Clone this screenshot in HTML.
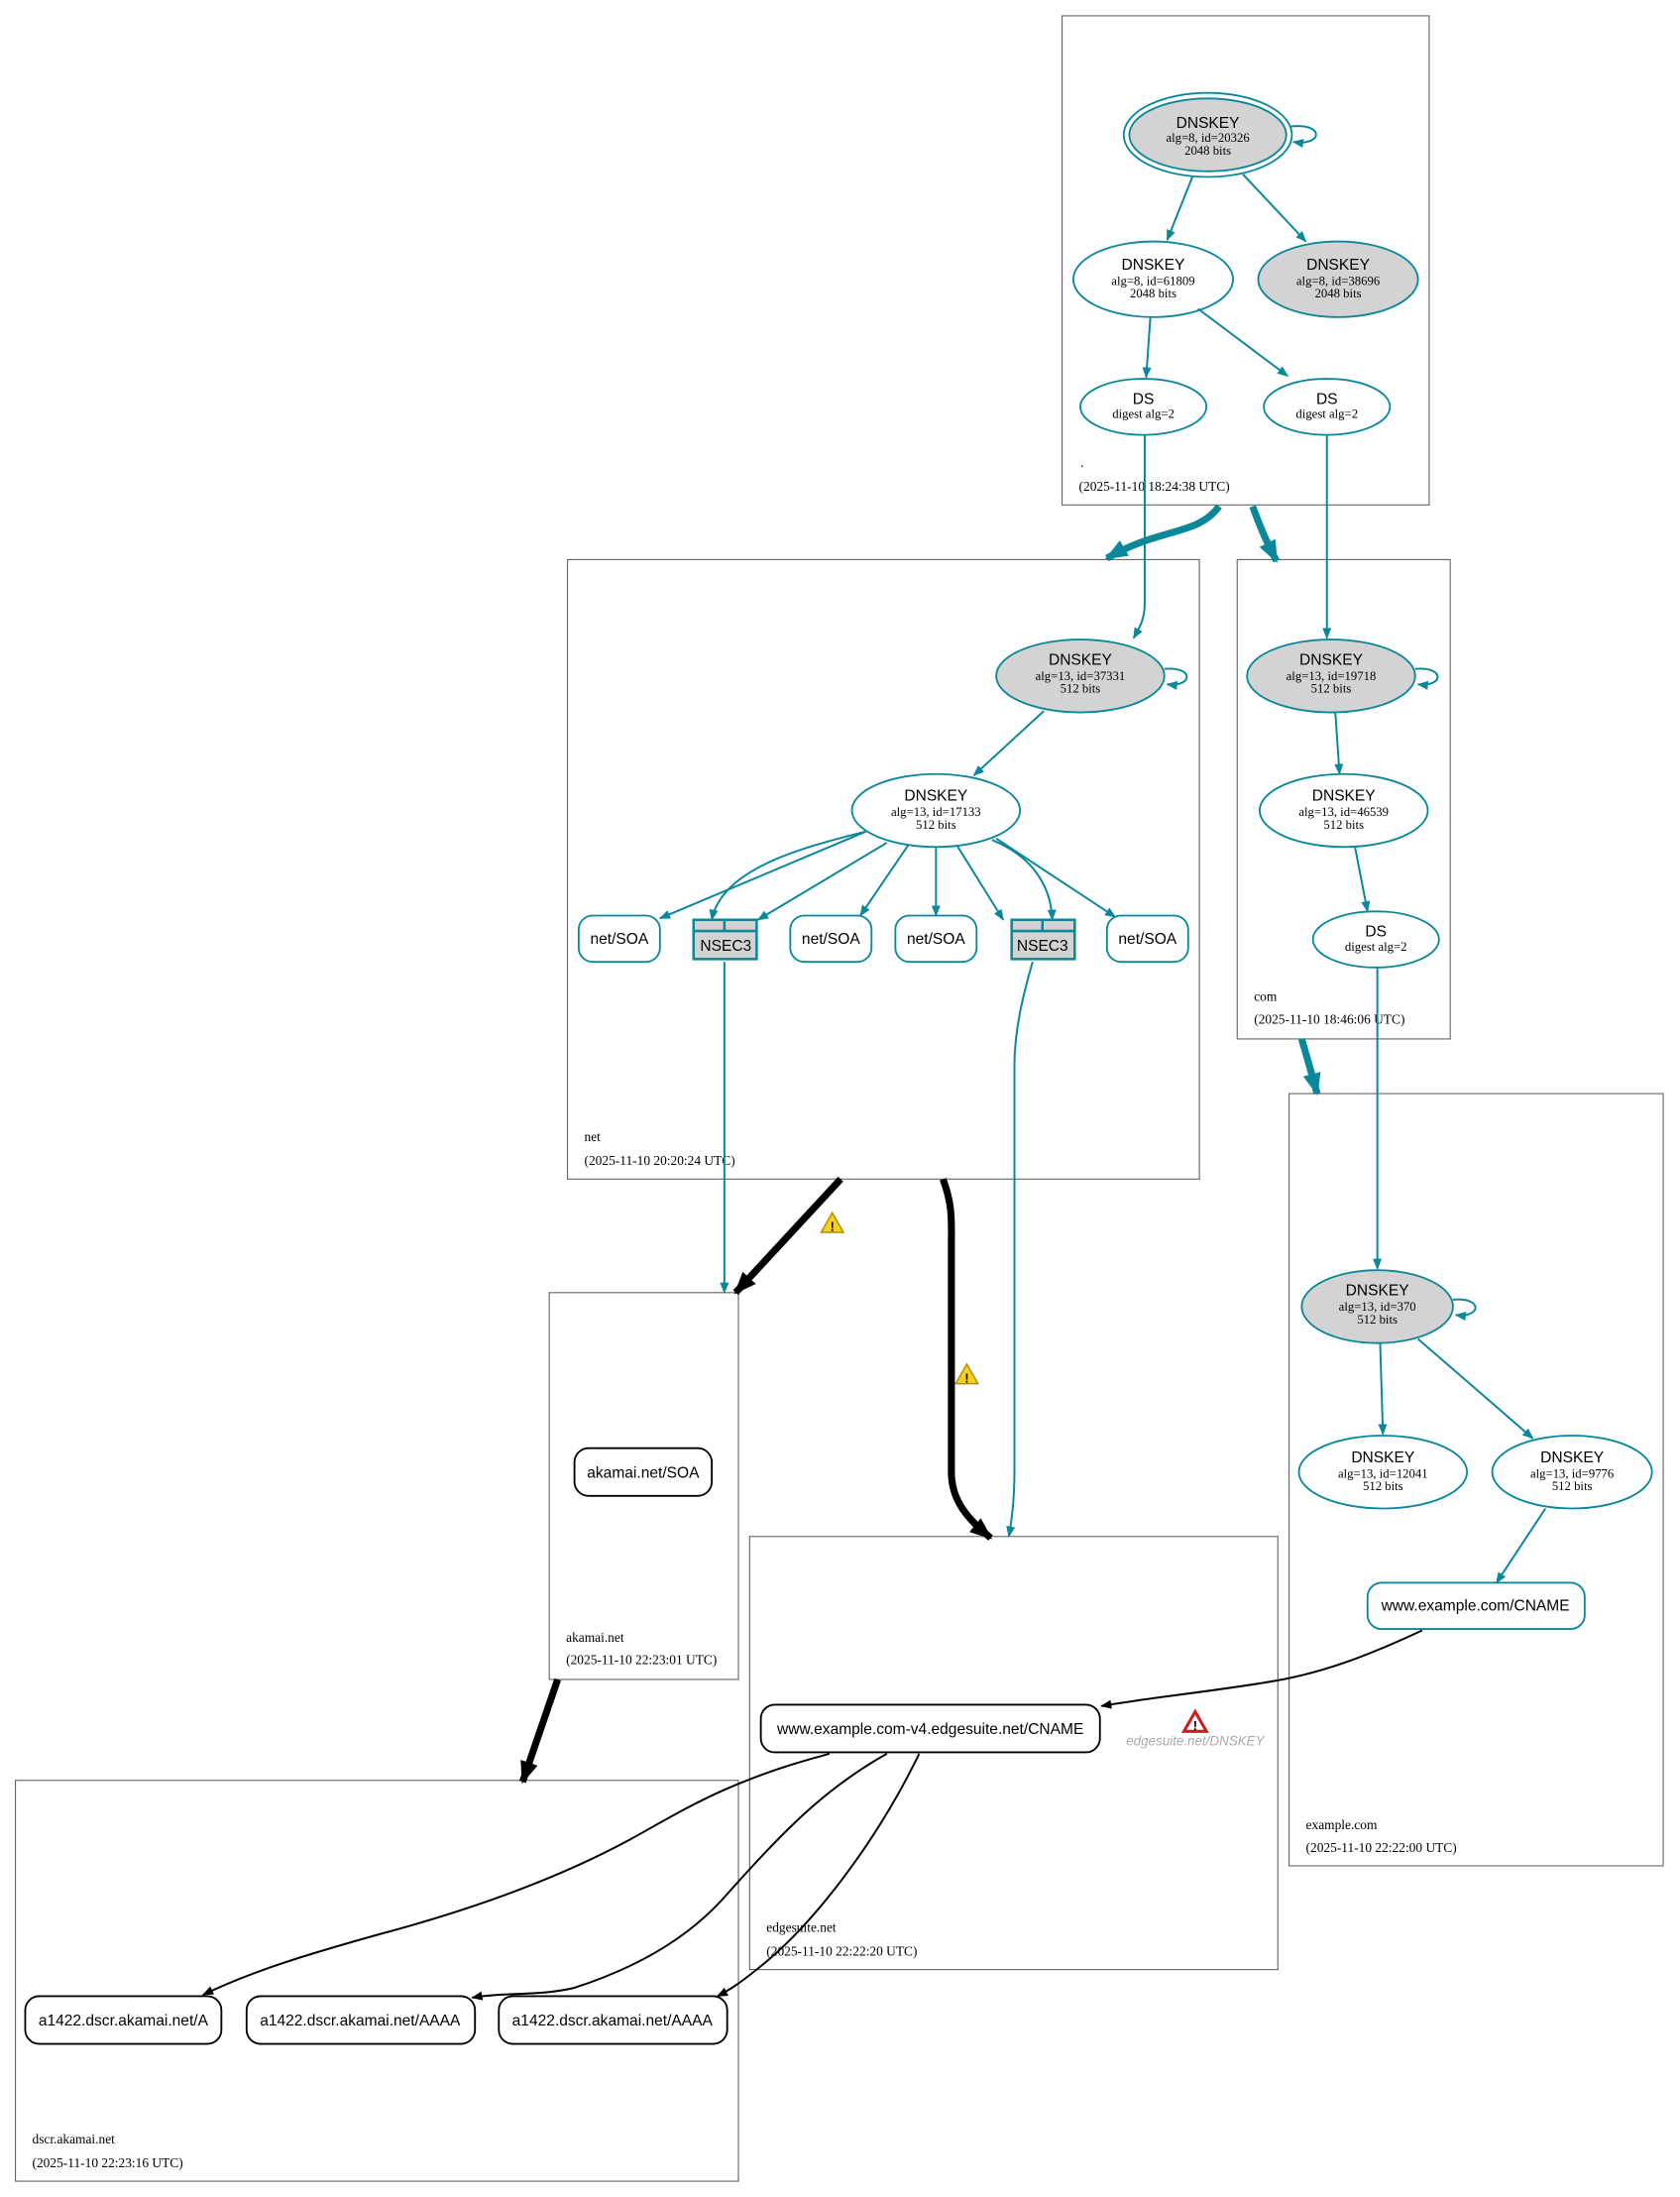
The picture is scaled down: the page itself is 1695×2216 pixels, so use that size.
<!DOCTYPE html>
<html><head><meta charset="utf-8"><style>
html,body{margin:0;padding:0;background:#fff;}
svg{display:block;}
.s{font-family:"Liberation Sans",sans-serif;font-size:11px;fill:#000;text-anchor:middle;}
.r{font-family:"Liberation Serif",serif;font-size:9px;fill:#000;text-anchor:middle;}
.l{font-family:"Liberation Serif",serif;font-size:9.5px;fill:#000;}
.cl{fill:none;stroke:#666;stroke-width:0.8;}
.t{stroke:#0a8799;stroke-width:1.4;fill:none;}
.k{stroke:#000;stroke-width:1.4;fill:none;}
</style></head><body>
<svg width="1695" height="2216" viewBox="0 0 1199 1567" xmlns="http://www.w3.org/2000/svg">
<defs>
<marker id="at" viewBox="0 0 10 10" refX="9" refY="5" markerWidth="8" markerHeight="8" orient="auto" markerUnits="userSpaceOnUse"><path d="M0,1 L10,5 L0,9z" fill="#0a8799"/></marker>
<marker id="ak" viewBox="0 0 10 10" refX="9" refY="5" markerWidth="8" markerHeight="8" orient="auto" markerUnits="userSpaceOnUse"><path d="M0,1 L10,5 L0,9z" fill="#000"/></marker>
<marker id="atb" viewBox="0 0 10 10" refX="9" refY="5" markerWidth="16" markerHeight="16" orient="auto" markerUnits="userSpaceOnUse"><path d="M0,1 L10,5 L0,9z" fill="#0a8799"/></marker>
<marker id="akb" viewBox="0 0 10 10" refX="9" refY="5" markerWidth="16" markerHeight="16" orient="auto" markerUnits="userSpaceOnUse"><path d="M0,1 L10,5 L0,9z" fill="#000"/></marker>
</defs>

<rect class="cl" x="758" y="11" width="262" height="349"/>
<text class="l" x="771" y="333">.</text>
<text class="l" x="770" y="350">(2025-11-10 18:24:38 UTC)</text>

<rect class="cl" x="405" y="399" width="451" height="442"/>
<text class="l" x="417" y="814">net</text>
<text class="l" x="417" y="831">(2025-11-10 20:20:24 UTC)</text>

<rect class="cl" x="883" y="399" width="152" height="342"/>
<text class="l" x="895" y="714">com</text>
<text class="l" x="895" y="730">(2025-11-10 18:46:06 UTC)</text>

<rect class="cl" x="920" y="780" width="267" height="551"/>
<text class="l" x="932" y="1305">example.com</text>
<text class="l" x="932" y="1321">(2025-11-10 22:22:00 UTC)</text>

<rect class="cl" x="392" y="922" width="135" height="276"/>
<text class="l" x="404" y="1171">akamai.net</text>
<text class="l" x="404" y="1187">(2025-11-10 22:23:01 UTC)</text>

<rect class="cl" x="535" y="1096" width="377" height="309"/>
<text class="l" x="547" y="1378">edgesuite.net</text>
<text class="l" x="547" y="1395">(2025-11-10 22:22:20 UTC)</text>

<rect class="cl" x="11" y="1270" width="516" height="286"/>
<text class="l" x="23" y="1529">dscr.akamai.net</text>
<text class="l" x="23" y="1546">(2025-11-10 22:23:16 UTC)</text>

<ellipse cx="862" cy="96" rx="60" ry="30" fill="none" stroke="#0a8799" stroke-width="1.3"/>
<ellipse cx="862" cy="96" rx="56" ry="26" fill="#d3d3d3" stroke="#0a8799" stroke-width="1.3"/>
<text class="s" x="862" y="91">DNSKEY</text><text class="r" x="862" y="101">alg=8, id=20326</text><text class="r" x="862" y="110">2048 bits</text>
<path class="t" d="M921,90 C945,87 945,104 923,101" marker-end="url(#at)"/>

<ellipse cx="823" cy="199" rx="57" ry="27" fill="#fff" stroke="#0a8799" stroke-width="1.3"/>
<text class="s" x="823" y="192">DNSKEY</text><text class="r" x="823" y="203">alg=8, id=61809</text><text class="r" x="823" y="212">2048 bits</text>
<ellipse cx="955" cy="199" rx="57" ry="27" fill="#d3d3d3" stroke="#0a8799" stroke-width="1.3"/>
<text class="s" x="955" y="192">DNSKEY</text><text class="r" x="955" y="203">alg=8, id=38696</text><text class="r" x="955" y="212">2048 bits</text>

<ellipse cx="816" cy="290" rx="45" ry="20" fill="#fff" stroke="#0a8799" stroke-width="1.3"/>
<text class="s" x="816" y="288">DS</text><text class="r" x="816" y="298">digest alg=2</text>
<ellipse cx="947" cy="290" rx="45" ry="20" fill="#fff" stroke="#0a8799" stroke-width="1.3"/>
<text class="s" x="947" y="288">DS</text><text class="r" x="947" y="298">digest alg=2</text>

<line class="t" x1="851" y1="126" x2="833" y2="171" marker-end="url(#at)"/>
<line class="t" x1="887" y1="124" x2="932" y2="172" marker-end="url(#at)"/>
<line class="t" x1="821" y1="226" x2="818" y2="269" marker-end="url(#at)"/>
<line class="t" x1="855" y1="220" x2="919" y2="268" marker-end="url(#at)"/>

<path class="t" d="M817,310 L817,430 C817,442 813,448 809,455" marker-end="url(#at)"/>
<path class="t" d="M947,310 L947,455" marker-end="url(#at)"/>

<path d="M870,361 C855,382 828,376 790,398" stroke="#0a8799" stroke-width="5" fill="none" marker-end="url(#atb)"/>
<path d="M894,361 C900,378 905,388 911,400" stroke="#0a8799" stroke-width="5" fill="none" marker-end="url(#atb)"/>
<path d="M929,741 C933,755 936,765 940,780" stroke="#0a8799" stroke-width="5" fill="none" marker-end="url(#atb)"/>

<ellipse cx="771" cy="482" rx="60" ry="26" fill="#d3d3d3" stroke="#0a8799" stroke-width="1.3"/>
<text class="s" x="771" y="474">DNSKEY</text><text class="r" x="771" y="485">alg=13, id=37331</text><text class="r" x="771" y="494">512 bits</text>
<path class="t" d="M831,477 C852,475 852,490 833,488" marker-end="url(#at)"/>
<ellipse cx="668" cy="578" rx="60" ry="26" fill="#fff" stroke="#0a8799" stroke-width="1.3"/>
<text class="s" x="668" y="571">DNSKEY</text><text class="r" x="668" y="582">alg=13, id=17133</text><text class="r" x="668" y="591">512 bits</text>
<line class="t" x1="745" y1="507" x2="695" y2="553" marker-end="url(#at)"/>

<g fill="#fff" stroke="#0a8799" stroke-width="1.3">
<rect x="413" y="653" width="58" height="33" rx="10"/>
<rect x="564" y="653" width="58" height="33" rx="10"/>
<rect x="639" y="653" width="58" height="33" rx="10"/>
<rect x="790" y="653" width="58" height="33" rx="10"/>
</g>
<text class="s" x="442" y="673">net/SOA</text>
<text class="s" x="593" y="673">net/SOA</text>
<text class="s" x="668" y="673">net/SOA</text>
<text class="s" x="819" y="673">net/SOA</text>
<g fill="#d3d3d3" stroke="#0a8799" stroke-width="1.8">
<rect x="495" y="656" width="45" height="28"/><line x1="495" y1="664" x2="540" y2="664"/><line x1="517" y1="656" x2="517" y2="664"/>
<rect x="722" y="656" width="45" height="28"/><line x1="722" y1="664" x2="767" y2="664"/><line x1="744" y1="656" x2="744" y2="664"/>
</g>
<text class="s" x="518" y="678">NSEC3</text>
<text class="s" x="744" y="678">NSEC3</text>

<line class="t" x1="618" y1="593" x2="471" y2="655" marker-end="url(#at)"/>
<path class="t" d="M618,593 C570,605 515,620 508,656" marker-end="url(#at)"/>
<line class="t" x1="633" y1="601" x2="541" y2="656" marker-end="url(#at)"/>
<line class="t" x1="648" y1="603" x2="614" y2="653" marker-end="url(#at)"/>
<line class="t" x1="668" y1="604" x2="668" y2="653" marker-end="url(#at)"/>
<line class="t" x1="683" y1="603" x2="716" y2="656" marker-end="url(#at)"/>
<path class="t" d="M708,599 C735,610 750,630 751,656" marker-end="url(#at)"/>
<line class="t" x1="711" y1="598" x2="796" y2="654" marker-end="url(#at)"/>

<line class="t" x1="517" y1="686" x2="517" y2="922" marker-end="url(#at)"/>
<path class="t" d="M737,686 C730,710 724,735 724,760 L724,1050 C724,1070 722,1085 720,1096" marker-end="url(#at)"/>

<path d="M600,841 L525,922" stroke="#000" stroke-width="5" fill="none" marker-end="url(#akb)"/>
<path d="M673,841 C680,860 679,870 679,890 L679,1050 C679,1070 690,1083 707,1097" stroke="#000" stroke-width="5" fill="none" marker-end="url(#akb)"/>
<path d="M398,1198 L373,1271" stroke="#000" stroke-width="5" fill="none" marker-end="url(#akb)"/>

<g>
<path d="M594,865 L602,879 L586,879z" fill="#f5d020" stroke="#b08a00" stroke-width="1"/>
<text x="594" y="878" font-family="Liberation Sans" font-size="9" font-weight="bold" text-anchor="middle">!</text>
<path d="M690,973 L698,987 L682,987z" fill="#f5d020" stroke="#b08a00" stroke-width="1"/>
<text x="690" y="986" font-family="Liberation Sans" font-size="9" font-weight="bold" text-anchor="middle">!</text>
<path d="M853,1221 L861,1235 L845,1235z" fill="#fff" stroke="#c82020" stroke-width="2.2"/>
<text x="853" y="1234" font-family="Liberation Sans" font-size="9" font-weight="bold" text-anchor="middle">!</text>
</g>
<text x="853" y="1245" font-family="Liberation Sans,sans-serif" font-size="9.5" font-style="italic" fill="#aaa" text-anchor="middle">edgesuite.net/DNSKEY</text>

<ellipse cx="950" cy="482" rx="60" ry="26" fill="#d3d3d3" stroke="#0a8799" stroke-width="1.3"/>
<text class="s" x="950" y="474">DNSKEY</text><text class="r" x="950" y="485">alg=13, id=19718</text><text class="r" x="950" y="494">512 bits</text>
<path class="t" d="M1010,477 C1031,475 1031,490 1012,488" marker-end="url(#at)"/>
<ellipse cx="959" cy="578" rx="60" ry="26" fill="#fff" stroke="#0a8799" stroke-width="1.3"/>
<text class="s" x="959" y="571">DNSKEY</text><text class="r" x="959" y="582">alg=13, id=46539</text><text class="r" x="959" y="591">512 bits</text>
<ellipse cx="982" cy="670" rx="45" ry="20" fill="#fff" stroke="#0a8799" stroke-width="1.3"/>
<text class="s" x="982" y="668">DS</text><text class="r" x="982" y="678">digest alg=2</text>
<line class="t" x1="953" y1="508" x2="956" y2="552" marker-end="url(#at)"/>
<line class="t" x1="967" y1="604" x2="976" y2="650" marker-end="url(#at)"/>
<line class="t" x1="983" y1="690" x2="983" y2="905" marker-end="url(#at)"/>

<ellipse cx="983" cy="932" rx="54" ry="26" fill="#d3d3d3" stroke="#0a8799" stroke-width="1.3"/>
<text class="s" x="983" y="924">DNSKEY</text><text class="r" x="983" y="935">alg=13, id=370</text><text class="r" x="983" y="944">512 bits</text>
<path class="t" d="M1037,927 C1058,925 1058,940 1039,938" marker-end="url(#at)"/>
<ellipse cx="987" cy="1050" rx="60" ry="26" fill="#fff" stroke="#0a8799" stroke-width="1.3"/>
<text class="s" x="987" y="1043">DNSKEY</text><text class="r" x="987" y="1054">alg=13, id=12041</text><text class="r" x="987" y="1063">512 bits</text>
<ellipse cx="1122" cy="1050" rx="57" ry="26" fill="#fff" stroke="#0a8799" stroke-width="1.3"/>
<text class="s" x="1122" y="1043">DNSKEY</text><text class="r" x="1122" y="1054">alg=13, id=9776</text><text class="r" x="1122" y="1063">512 bits</text>
<line class="t" x1="985" y1="958" x2="987" y2="1023" marker-end="url(#at)"/>
<line class="t" x1="1012" y1="955" x2="1094" y2="1026" marker-end="url(#at)"/>
<line class="t" x1="1103" y1="1076" x2="1068" y2="1129" marker-end="url(#at)"/>
<rect x="976" y="1129" width="155" height="33" rx="10" fill="#fff" stroke="#0a8799" stroke-width="1.3"/>
<text class="s" x="1053" y="1149">www.example.com/CNAME</text>
<path class="k" d="M1015,1163 C985,1177 950,1192 910,1199 C870,1206 820,1211 786,1217" marker-end="url(#ak)"/>

<rect x="410" y="1033" width="98" height="34" rx="10" fill="#fff" stroke="#000" stroke-width="1.3"/>
<text class="s" x="459" y="1054">akamai.net/SOA</text>

<rect x="543" y="1216" width="242" height="34" rx="10" fill="#fff" stroke="#000" stroke-width="1.3"/>
<text class="s" x="664" y="1237">www.example.com-v4.edgesuite.net/CNAME</text>

<g fill="#fff" stroke="#000" stroke-width="1.3">
<rect x="18" y="1424" width="140" height="34" rx="10"/>
<rect x="176" y="1424" width="163" height="34" rx="10"/>
<rect x="356" y="1424" width="163" height="34" rx="10"/>
</g>
<text class="s" x="88" y="1445">a1422.dscr.akamai.net/A</text>
<text class="s" x="257" y="1445">a1422.dscr.akamai.net/AAAA</text>
<text class="s" x="437" y="1445">a1422.dscr.akamai.net/AAAA</text>
<path class="k" d="M592,1251 C520,1270 490,1290 450,1312 C380,1350 300,1372 270,1380 C220,1394 180,1406 145,1423" marker-end="url(#ak)"/>
<path class="k" d="M633,1251 C590,1275 560,1305 520,1350 C490,1385 450,1405 410,1418 C385,1424 360,1421 337,1425" marker-end="url(#ak)"/>
<path class="k" d="M656,1251 C630,1305 585,1370 540,1405 C530,1413 522,1419 512,1424" marker-end="url(#ak)"/>
</svg>
</body></html>
